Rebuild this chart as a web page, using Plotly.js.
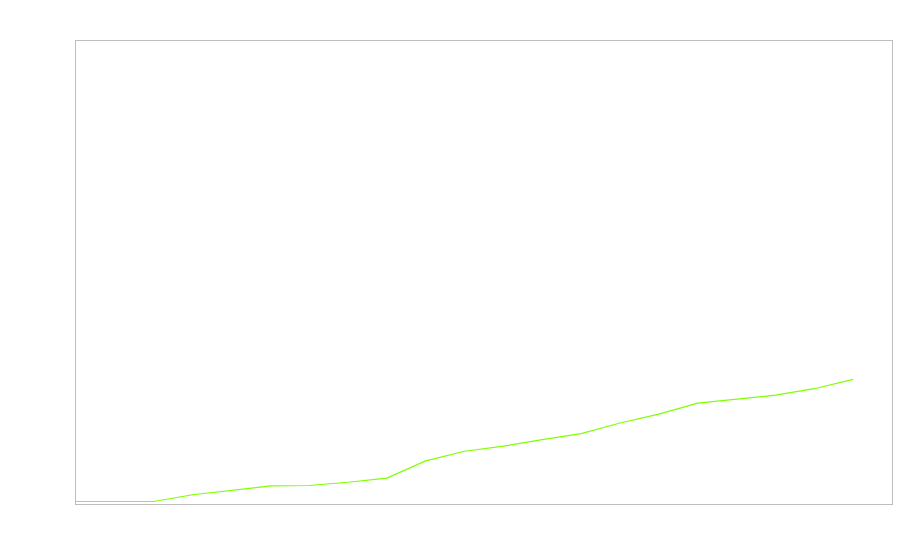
<!DOCTYPE html>
<html>
<head>
<meta charset="utf-8">
<script src="https://cdn.plot.ly/plotly-3.0.1.min.js"></script>
<style>html,body{margin:0;padding:0;background:#fff}#chart{width:900px;height:560px}</style>
</head>
<body>
<div id="chart"></div>
<script>
const xValues = [0,1,2,3,4,5,6,7,8,9,10,11,12,13,14,15,16,17,18,19,20];
const yValues = [0.54,0.54,0.54,2.0,3.0,3.9,4.0,4.7,5.6,9.3,11.4,12.5,13.9,15.2,17.5,19.4,21.8,22.6,23.5,24.9,26.9];

const trace = {
  x: xValues,
  y: yValues,
  type: 'scatter',
  mode: 'lines',
  line: {color: '#7FFF00', width: 1.2},
  hoverinfo: 'none'
};

const axisBase = {
  showgrid: false,
  zeroline: false,
  showticklabels: false,
  ticks: '',
  showline: true,
  mirror: true,
  linecolor: '#bdbdbd',
  linewidth: 1
};

const layout = {
  width: 900,
  height: 560,
  margin: {l: 76, r: 8, t: 41, b: 56},
  paper_bgcolor: '#ffffff',
  plot_bgcolor: '#ffffff',
  showlegend: false,
  xaxis: Object.assign({}, axisBase, {range: [0, 21]}),
  yaxis: Object.assign({}, axisBase, {range: [0, 100]})
};

Plotly.newPlot('chart', [trace], layout, {displayModeBar: false, staticPlot: true});
</script>
</body>
</html>
